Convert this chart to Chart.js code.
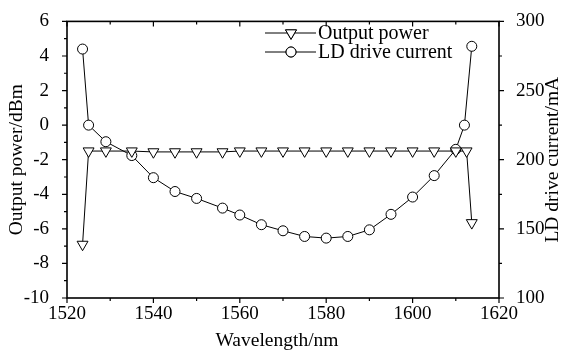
<!DOCTYPE html>
<html><head><meta charset="utf-8">
<script src="https://cdn.jsdelivr.net/npm/chart.js@4/dist/chart.umd.min.js"></script>
<style>html,body{margin:0;padding:0;background:#fff;font-family:"Liberation Serif",serif}#wrap{width:564px;height:352px}</style>
</head><body><div id="wrap"><canvas id="c" width="564" height="352"></canvas></div>
<script>
// ---- data ----
const powerWavelength = [1523.6, 1525, 1529, 1535, 1540, 1545, 1550, 1556, 1560, 1565, 1570, 1575, 1580, 1585, 1590, 1595, 1600, 1605, 1610, 1612.5, 1613.7];
const outputPower     = [-6.9, -1.5, -1.5, -1.5, -1.55, -1.55, -1.55, -1.55, -1.5, -1.5, -1.5, -1.5, -1.5, -1.5, -1.5, -1.5, -1.5, -1.5, -1.5, -1.5, -5.65];
const currentWavelength = [1523.6, 1525, 1529, 1535, 1540, 1545, 1550, 1556, 1560, 1565, 1570, 1575, 1580, 1585, 1590, 1595, 1600, 1605, 1610, 1612, 1613.7];
const driveCurrent      = [280, 225, 213, 203, 187, 177, 172, 165, 160, 153, 148.6, 144.5, 143.3, 144.5, 149.3, 160.5, 173, 188.5, 207.5, 225, 282];
const xTickValues = [1520, 1540, 1560, 1580, 1600, 1620];
const leftTickValues = [-10, -8, -6, -4, -2, 0, 2, 4, 6];
const rightTickValues = [100, 150, 200, 250, 300];
const seriesNames = ['Output power', 'LD drive current'];
const xTitle = 'Wavelength/nm';
const leftTitle = 'Output power/dBm';
const rightTitle = 'LD drive current/mA';

const FONT = "'Liberation Serif', 'Times New Roman', serif";
Chart.defaults.font.family = FONT;
Chart.defaults.color = '#000';

const framePlugin = {
  id: 'frame',
  afterDraw(chart) {
    const ctx = chart.ctx, a = chart.chartArea;
    const xs = chart.scales.x, yl = chart.scales.y, yr = chart.scales.y2;
    ctx.save();
    ctx.strokeStyle = '#000';
    ctx.lineWidth = 1.6;
    ctx.strokeRect(a.left, a.top, a.right - a.left, a.bottom - a.top);
    ctx.lineWidth = 1.2;
    ctx.beginPath();
    for (let v = 1520; v <= 1620; v += 10) {
      const p = xs.getPixelForValue(v);
      const len = (v % 20 === 0) ? 5 : 3;
      ctx.moveTo(p, a.bottom); ctx.lineTo(p, a.bottom + len);
      ctx.moveTo(p, a.top); ctx.lineTo(p, a.top + len);
    }
    for (let v = -10; v <= 6; v += 1) {
      const p = yl.getPixelForValue(v);
      const len = (v % 2 === 0) ? 5 : 3;
      ctx.moveTo(a.left - len, p); ctx.lineTo(a.left, p);
    }
    for (let v = 100; v <= 300; v += 25) {
      const p = yr.getPixelForValue(v);
      const len = (v % 50 === 0) ? 5 : 3;
      ctx.moveTo(a.right, p); ctx.lineTo(a.right + len, p);
    }
    ctx.stroke();

    // axis titles
    ctx.fillStyle = '#000';
    ctx.font = '19.5px ' + FONT;
    ctx.textAlign = 'center';
    ctx.textBaseline = 'middle';
    ctx.fillText(xTitle, 277, 341);
    ctx.save();
    ctx.translate(17, (a.top + a.bottom) / 2);
    ctx.rotate(-Math.PI / 2);
    ctx.fillText(leftTitle, 0, 0);
    ctx.restore();
    ctx.save();
    ctx.translate(553, (a.top + a.bottom) / 2);
    ctx.rotate(-Math.PI / 2);
    ctx.fillText(rightTitle, 0, 0);
    ctx.restore();

    // legend
    const rows = [33, 52];
    chart.data.datasets.forEach((ds, i) => {
      const y = rows[i];
      ctx.strokeStyle = '#000';
      ctx.lineWidth = 1;
      ctx.beginPath(); ctx.moveTo(265, y); ctx.lineTo(316, y); ctx.stroke();
      ctx.fillStyle = '#fff';
      Chart.helpers.drawPoint(ctx, {
        pointStyle: ds.pointStyle, rotation: ds.pointRotation || 0,
        radius: ds.pointRadius, borderWidth: 1
      }, 291, y);
      ctx.fill(); ctx.stroke();
      ctx.fillStyle = '#000';
      ctx.font = '20px ' + FONT;
      ctx.textAlign = 'left';
      ctx.textBaseline = 'middle';
      ctx.fillText(ds.label, 318, y + 1);
    });
    ctx.restore();
  }
};

const tickFont = { family: FONT, size: 19 };
const plain = v => String(v);

function build() {
  new Chart(document.getElementById('c'), {
    type: 'line',
    data: {
      datasets: [
        {
          label: seriesNames[0],
          data: powerWavelength.map((x, i) => ({ x, y: outputPower[i] })),
          yAxisID: 'y',
          borderColor: '#000', borderWidth: 1, tension: 0,
          pointStyle: 'triangle', pointRotation: 180, pointRadius: 6.3,
          pointBackgroundColor: '#fff', pointBorderColor: '#000', pointBorderWidth: 1
        },
        {
          label: seriesNames[1],
          data: currentWavelength.map((x, i) => ({ x, y: driveCurrent[i] })),
          yAxisID: 'y2',
          borderColor: '#000', borderWidth: 1, tension: 0,
          pointStyle: 'circle', pointRadius: 5,
          pointBackgroundColor: '#fff', pointBorderColor: '#000', pointBorderWidth: 1
        }
      ]
    },
    options: {
      responsive: false,
      animation: false,
      devicePixelRatio: 1,
      layout: { padding: { top: 18, left: 0, right: 0, bottom: 0 } },
      plugins: { legend: { display: false }, tooltip: { enabled: false } },
      scales: {
        x: {
          type: 'linear', position: 'bottom', min: 1520, max: 1620,
          afterBuildTicks: s => { s.ticks = xTickValues.map(v => ({ value: v })); },
          afterFit: s => { s.height = 54; },
          grid: { display: false }, border: { display: false },
          ticks: { color: '#000', padding: -3, maxRotation: 0, autoSkip: false, font: tickFont, callback: plain }
        },
        y: {
          type: 'linear', position: 'left', min: -10, max: 6,
          afterBuildTicks: s => { s.ticks = leftTickValues.map(v => ({ value: v })); },
          afterFit: s => { s.width = 67; },
          grid: { display: false }, border: { display: false },
          ticks: { color: '#000', padding: 10, autoSkip: false, font: tickFont, callback: plain }
        },
        y2: {
          type: 'linear', position: 'right', min: 100, max: 300,
          afterBuildTicks: s => { s.ticks = rightTickValues.map(v => ({ value: v })); },
          afterFit: s => { s.width = 65; },
          grid: { display: false }, border: { display: false },
          ticks: { color: '#000', padding: 9, autoSkip: false, font: tickFont, callback: plain }
        }
      }
    },
    plugins: [framePlugin]
  });
}

if (document.fonts && document.fonts.load) {
  Promise.all([
    document.fonts.load("18px 'Liberation Serif'"),
    document.fonts.load("20px 'Liberation Serif'")
  ]).then(build, build);
} else {
  build();
}
</script>
</body></html>
